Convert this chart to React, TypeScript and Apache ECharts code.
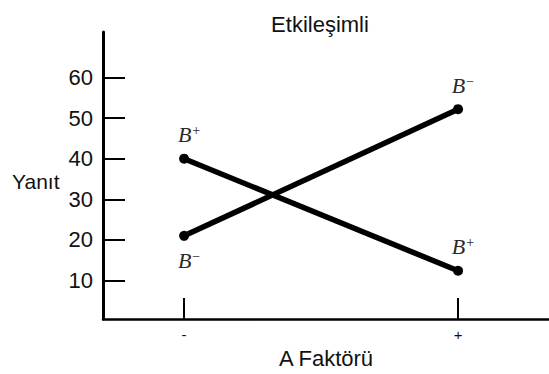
import React, { useEffect, useRef } from "react";
import * as echarts from "echarts";

// Factor A levels (x positions 0 and 1) and the mean response for each B level
const factorLevels = ["-", "+"];
const bPlusValues = [40, 12.4];
const bMinusValues = [21, 52.2];
const yTickValues = [10, 20, 30, 40, 50, 60];

const SANS = "'Liberation Sans', Arial, sans-serif";
const SERIF = "'Liberation Serif', 'Times New Roman', serif";

const labelRich = {
  b: { fontFamily: SERIF, fontStyle: "italic", fontSize: 22, color: "#2a2a2a", lineHeight: 22, verticalAlign: "bottom" },
  s: { fontFamily: SERIF, fontSize: 14, color: "#2a2a2a", lineHeight: 22, verticalAlign: "top", padding: [0, 0, 0, 1] },
};

function bLabel(sign: string, position: "top" | "bottom") {
  return {
    show: true,
    position,
    distance: position === "top" ? 8 : 9,
    offset: [5, 0],
    formatter: `{b|B}{s|${sign}}`,
    rich: labelRich,
  };
}

export default function App() {
  const ref = useRef<HTMLDivElement>(null);

  useEffect(() => {
    if (!ref.current) return;
    const chart = echarts.init(ref.current, null, { renderer: "svg" });

    const toPoints = (vals: number[], signs: string[], positions: ("top" | "bottom")[]) =>
      vals.map((v, i) => ({ value: [i, v], label: bLabel(signs[i], positions[i]) }));

    chart.setOption({
      animation: false,
      backgroundColor: "#fff",
      title: {
        text: "Etkileşimli",
        left: 315,
        top: 8,
        textAlign: "center",
        textStyle: { fontFamily: SANS, fontSize: 22, fontWeight: "normal", color: "#111" },
      },
      grid: { left: 103, right: 0, top: 32, bottom: 51 },
      xAxis: {
        type: "value",
        min: -0.296,
        max: 1.332,
        name: "A Faktörü",
        nameLocation: "middle",
        nameGap: 27,
        nameTextStyle: { fontFamily: SANS, fontSize: 22, color: "#111" },
        axisLine: { show: true, onZero: false, lineStyle: { color: "#000", width: 2.5 } },
        axisTick: {
          show: true,
          inside: true,
          length: 21,
          customValues: [0, 1],
          lineStyle: { color: "#000", width: 2 },
        },
        axisLabel: {
          show: true,
          customValues: [0, 1],
          margin: 8,
          fontFamily: SANS,
          fontSize: 15,
          color: "#111",
          formatter: (v: number) => factorLevels[Math.round(v)] ?? "",
        },
        splitLine: { show: false },
      },
      yAxis: {
        type: "value",
        min: 0.5,
        max: 71.2,
        axisLine: { show: true, onZero: false, lineStyle: { color: "#000", width: 3 } },
        axisTick: {
          show: true,
          inside: true,
          length: 22,
          customValues: yTickValues,
          lineStyle: { color: "#000", width: 2 },
        },
        axisLabel: {
          show: true,
          customValues: yTickValues,
          margin: 10,
          fontFamily: SANS,
          fontSize: 22,
          color: "#111",
        },
        splitLine: { show: false },
      },
      graphic: [
        {
          type: "text",
          left: 12,
          top: 171,
          style: { text: "Yanıt", fontFamily: SANS, fontSize: 21, fill: "#111" },
        },
      ],
      series: [
        {
          name: "B+",
          type: "line",
          data: toPoints(bPlusValues, ["+", "+"], ["top", "top"]),
          symbol: "circle",
          symbolSize: 10,
          lineStyle: { color: "#000", width: 5.5 },
          itemStyle: { color: "#000" },
        },
        {
          name: "B-",
          type: "line",
          data: toPoints(bMinusValues, ["−", "−"], ["bottom", "top"]),
          symbol: "circle",
          symbolSize: 10,
          lineStyle: { color: "#000", width: 5.5 },
          itemStyle: { color: "#000" },
        },
      ],
    });

    return () => chart.dispose();
  }, []);

  return (
    <div
      ref={ref}
      style={{ position: "fixed", left: 0, top: 0, width: 549, height: 374, background: "#fff" }}
    />
  );
}
